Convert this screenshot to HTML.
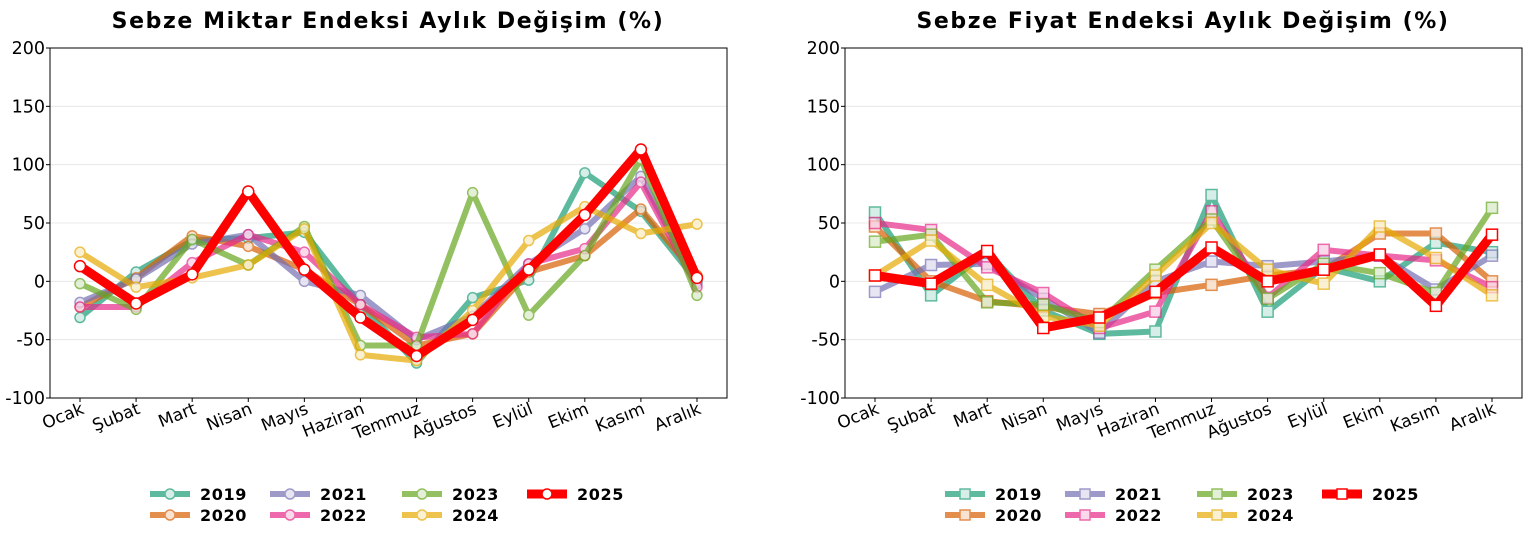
<!DOCTYPE html>
<html><head><meta charset="utf-8"><style>
body{margin:0;background:#fff;}
svg{display:block;font-family:"DejaVu Sans","Liberation Sans",sans-serif;}
</style></head><body>
<svg id="s" width="1531" height="546" xmlns="http://www.w3.org/2000/svg"></svg>
<script>
const NS="http://www.w3.org/2000/svg";
const s=document.getElementById('s');
function el(t,a,p){const e=document.createElementNS(NS,t);for(const k in a)e.setAttribute(k,a[k]);(p||s).appendChild(e);return e;}
const months=["Ocak","Şubat","Mart","Nisan","Mayıs","Haziran","Temmuz","Ağustos","Eylül","Ekim","Kasım","Aralık"];
const cols={2019:"#1b9e77",2020:"#d95f02",2021:"#7570b3",2022:"#e7298a",2023:"#66a61e",2024:"#e6ab02"};
const L={
2019:[-31,8,35,37,42,-20,-70,-14,1,93,60,0],
2020:[-22,3,39,30,10,-20,-55,-45,8,22,62,5],
2021:[-18,2,32,40,0,-12,-50,-30,15,45,90,-2],
2022:[-22,-22,16,40,25,-20,-48,-45,15,28,85,-5],
2023:[-2,-24,36,14,47,-55,-55,76,-29,22,105,-12],
2024:[25,-5,3,14,45,-63,-68,-25,35,64,41,49],
2025:[13,-19,6,77,10,-31,-64,-33,10,57,113,3]};
const R={
2019:[59,-12,25,-25,-45,-43,74,-26,12,0,33,25],
2020:[47,0,-17,-22,-28,-10,-3,5,10,41,41,0],
2021:[-9,14,15,-15,-44,0,17,13,17,22,-7,22],
2022:[50,44,12,-10,-40,-26,60,-14,27,22,18,-5],
2023:[34,40,-18,-20,-35,10,53,-15,15,7,-10,63],
2024:[5,35,-3,-30,-38,5,50,10,-2,47,20,-12],
2025:[5,-2,26,-40,-31,-9,29,0,10,23,-21,40]};
function light(c){const n=parseInt(c.slice(1),16);let r=n>>16,g=(n>>8)&255,b=n&255;
 r=Math.round(r*0.25+255*0.75);g=Math.round(g*0.25+255*0.75);b=Math.round(b*0.25+255*0.75);return `rgb(${r},${g},${b})`;}
function chart(x0,title,data,sq){
 const x1=x0+677,yt=48,yb=398;
 const Y=v=>yb-(v+100)*350/300;const X=i=>x0+30+i*56.09;
 el('text',{x:x0+338,y:28,'text-anchor':'middle','font-size':22,'font-weight':'bold','letter-spacing':'1.6',fill:'#000'}).textContent=title;
 for(let v=-100;v<=200;v+=50){const y=Y(v);
  if(v>-100&&v<200)el('line',{x1:x0,x2:x1,y1:y,y2:y,stroke:'#e4e4e4','stroke-width':0.8});
  el('line',{x1:x0-4,x2:x0,y1:y,y2:y,stroke:'#000'});
  el('text',{x:x0-5,y:y+6,'text-anchor':'end','font-size':17.5,fill:'#000'}).textContent=v;}
 months.forEach((m,i)=>{const x=X(i);el('line',{x1:x,x2:x,y1:yb,y2:yb+4,stroke:'#000'});
  el('text',{x:x+5,y:yb+15,'text-anchor':'end','font-size':17,transform:`rotate(-22 ${x+5} ${yb+15})`,fill:'#000'}).textContent=m;});
 for(const yr of [2019,2020,2021,2022,2023,2024,2025]){
  const red=yr==2025,c=red?'#ff0000':cols[yr];
  const g=el('g',{opacity:red?1:0.7});
  el('polyline',{points:data[yr].map((v,i)=>X(i)+','+Y(v)).join(' '),fill:'none',stroke:c,'stroke-width':red?9:6,'stroke-linejoin':'round'},g);
  data[yr].forEach((v,i)=>{const f=red?'#fff':light(c);
   if(sq)el('rect',{x:X(i)-5.5,y:Y(v)-5.5,width:11,height:11,fill:f,stroke:c,'stroke-width':1.5},g);
   else el('circle',{cx:X(i),cy:Y(v),r:red?5.5:5,fill:f,stroke:c,'stroke-width':1.5},g);});
 }
 el('rect',{x:x0,y:yt,width:677,height:350,fill:'none',stroke:'#000','stroke-width':1});
 const lx=[x0+100,x0+220,x0+352,x0+477];
 [2019,2020,2021,2022,2023,2024,2025].forEach((yr,k)=>{const col=Math.floor(k/2),row=k%2;
  const x=lx[col],y=494+row*21,red=yr==2025,c=red?'#ff0000':cols[yr];
  const g=el('g',{opacity:red?1:0.7});
  el('line',{x1:x,x2:x+40,y1:y,y2:y,stroke:c,'stroke-width':red?9:6},g);
  if(sq)el('rect',{x:x+15,y:y-5,width:10,height:10,fill:red?'#fff':light(c),stroke:c,'stroke-width':1.5},g);
  else el('circle',{cx:x+20,cy:y,r:5,fill:red?'#fff':light(c),stroke:c,'stroke-width':1.5},g);
  el('text',{x:x+50,y:y+6,'font-size':16,'font-weight':'bold','letter-spacing':'0.6',fill:'#000'}).textContent=yr;});
}
chart(50,"Sebze Miktar Endeksi Aylık Değişim (%)",L,false);
chart(845,"Sebze Fiyat Endeksi Aylık Değişim (%)",R,true);
</script>
</body></html>
